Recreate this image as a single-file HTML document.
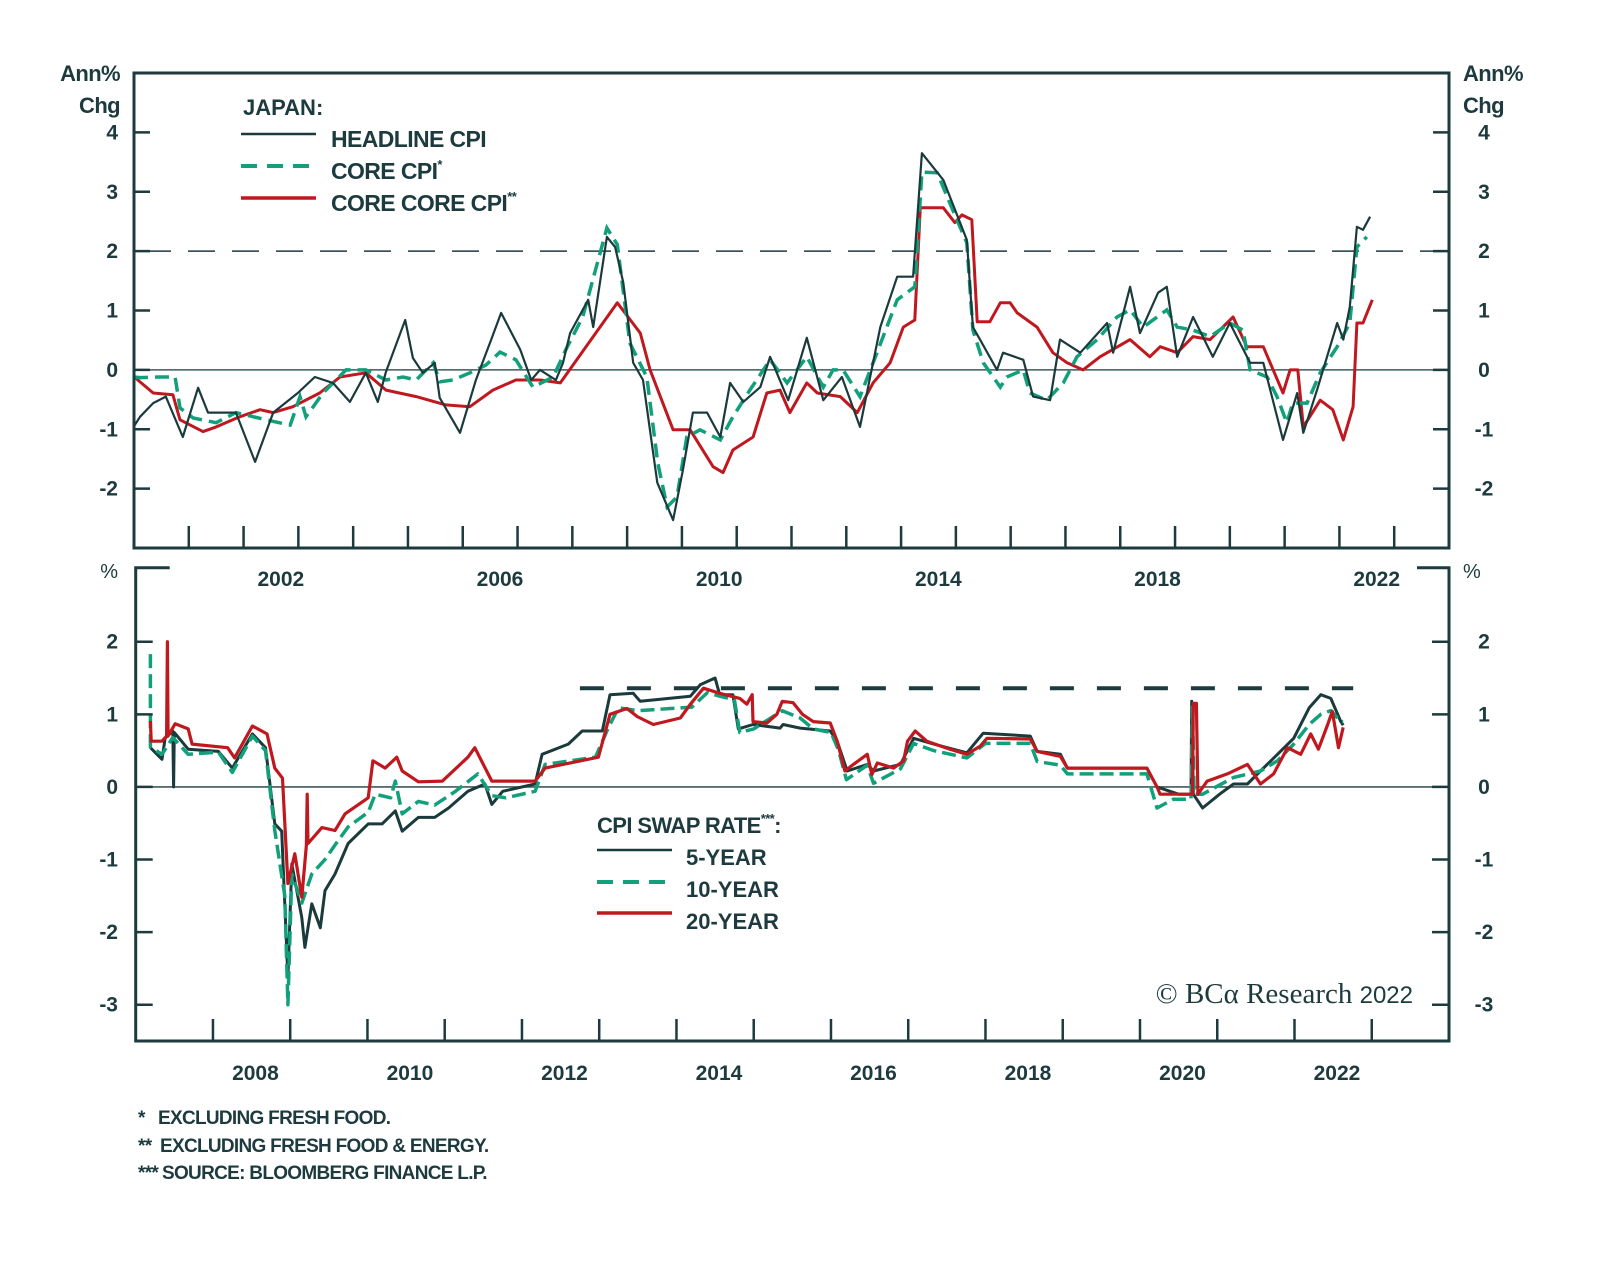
<!DOCTYPE html>
<html><head><meta charset="utf-8"><style>
html,body{margin:0;padding:0;background:#fff;}
svg{display:block;font-family:"Liberation Sans",sans-serif;}
.t{fill:#1d3b3e;font-weight:bold;}
</style></head>
<body>
<svg id="chart" width="1600" height="1268" viewBox="0 0 1600 1268" xmlns="http://www.w3.org/2000/svg">
<rect x="0" y="0" width="1600" height="1268" fill="#fff"/>
<g id="topPanel"></g>
<g id="botPanel"></g>
<g>
<text x="243" y="115" class="t" font-size="22">JAPAN:</text>
<line x1="241" y1="134" x2="316" y2="134" stroke="#1b3a3c" stroke-width="2.5"/>
<text x="331" y="147" class="t" font-size="23" letter-spacing="-0.6">HEADLINE CPI</text>
<line x1="241" y1="166" x2="316" y2="166" stroke="#12a07a" stroke-width="4" stroke-dasharray="16,10"/>
<text x="331" y="179" class="t" font-size="23" letter-spacing="-0.6">CORE CPI<tspan font-size="13" dy="-10">*</tspan></text>
<line x1="241" y1="198" x2="316" y2="198" stroke="#c0181f" stroke-width="3.5"/>
<text x="331" y="211" class="t" font-size="23" letter-spacing="-0.6">CORE CORE CPI<tspan font-size="13" dy="-10">**</tspan></text>
</g>
<g>
<text x="597" y="833" class="t" font-size="22" letter-spacing="-0.6">CPI SWAP RATE<tspan font-size="13" dy="-10">***</tspan><tspan dy="10">:</tspan></text>
<line x1="597" y1="850" x2="672" y2="850" stroke="#1b3a3c" stroke-width="2.5"/>
<text x="686" y="865" class="t" font-size="22">5-YEAR</text>
<line x1="597" y1="882" x2="672" y2="882" stroke="#12a07a" stroke-width="4" stroke-dasharray="16,10"/>
<text x="686" y="897" class="t" font-size="22">10-YEAR</text>
<line x1="597" y1="913" x2="672" y2="913" stroke="#c0181f" stroke-width="3.5"/>
<text x="686" y="929" class="t" font-size="22">20-YEAR</text>
</g>
<text x="1413" y="1003" text-anchor="end" font-family="Liberation Serif, serif" font-size="29" fill="#1d3b3e">© BCα Research <tspan font-family="Liberation Sans, sans-serif" font-size="24">2022</tspan></text>
<g font-size="19" fill="#1d3b3e" font-weight="bold" letter-spacing="-0.7">
<text x="138" y="1124">*<tspan x="158">EXCLUDING FRESH FOOD.</tspan></text>
<text x="138" y="1152">**<tspan x="160">EXCLUDING FRESH FOOD &amp; ENERGY.</tspan></text>
<text x="138" y="1179">***<tspan x="162">SOURCE: BLOOMBERG FINANCE L.P.</tspan></text>
</g>
</svg>
<script>
// ---------- TOP PANEL DATA ----------
const topTickYears = [2001,2002,2003,2004,2005,2006,2007,2008,2009,2010,2011,2012,2013,2014,2015,2016,2017,2018,2019,2020,2021,2022,2023];
const topYearLabels = [2002,2006,2010,2014,2018,2022];
const topValueTicks = [-2,-1,0,1,2,3,4];
const headlineSeries = [[2000.0,-0.95],[2000.11,-0.79],[2000.35,-0.56],[2000.58,-0.45],[2000.89,-1.13],[2001.17,-0.30],[2001.35,-0.72],[2001.86,-0.72],[2002.21,-1.55],[2002.54,-0.72],[2002.99,-0.39],[2003.30,-0.12],[2003.63,-0.22],[2003.94,-0.54],[2004.23,-0.05],[2004.45,-0.54],[2004.60,-0.03],[2004.95,0.84],[2005.09,0.20],[2005.27,-0.05],[2005.49,0.12],[2005.58,-0.47],[2005.95,-1.06],[2006.24,-0.17],[2006.52,0.51],[2006.70,0.96],[2007.05,0.34],[2007.25,-0.17],[2007.41,0],[2007.70,-0.17],[2007.83,0.12],[2007.96,0.62],[2008.29,1.18],[2008.38,0.72],[2008.63,2.24],[2008.78,2.07],[2008.93,1.47],[2009.11,0.12],[2009.29,-0.17],[2009.55,-1.90],[2009.84,-2.53],[2010.02,-1.68],[2010.20,-0.72],[2010.46,-0.72],[2010.70,-1.13],[2010.88,-0.22],[2011.12,-0.54],[2011.43,-0.29],[2011.61,0.22],[2011.94,-0.51],[2012.28,0.54],[2012.58,-0.51],[2012.92,-0.12],[2013.25,-0.96],[2013.62,0.72],[2013.93,1.57],[2014.22,1.57],[2014.38,3.65],[2014.77,3.20],[2015.20,2.19],[2015.31,0.72],[2015.44,0.51],[2015.75,0],[2015.86,0.29],[2016.23,0.17],[2016.41,-0.45],[2016.72,-0.51],[2016.90,0.51],[2017.27,0.29],[2017.76,0.79],[2017.87,0.29],[2018.18,1.40],[2018.36,0.62],[2018.69,1.30],[2018.85,1.40],[2019.04,0.22],[2019.33,0.89],[2019.69,0.22],[2020.00,0.79],[2020.37,0.12],[2020.61,0.12],[2020.97,-1.18],[2021.23,-0.39],[2021.34,-1.06],[2021.59,-0.34],[2021.96,0.79],[2022.07,0.51],[2022.19,1.06],[2022.32,2.41],[2022.43,2.36],[2022.56,2.58]];
const coreSeries = [[2000.0,-0.12],[2000.11,-0.13],[2000.47,-0.12],[2000.75,-0.12],[2000.84,-0.64],[2001.08,-0.81],[2001.50,-0.89],[2001.86,-0.72],[2002.41,-0.84],[2002.85,-0.93],[2003.03,-0.45],[2003.14,-0.79],[2003.45,-0.39],[2003.87,0],[2004.23,0],[2004.60,-0.17],[2004.91,-0.12],[2005.15,-0.17],[2005.46,0.12],[2005.58,-0.20],[2005.82,-0.17],[2006.13,-0.05],[2006.42,0.08],[2006.68,0.30],[2006.97,0.17],[2007.28,-0.29],[2007.65,-0.12],[2007.88,0.34],[2008.19,0.89],[2008.63,2.39],[2008.82,2.11],[2009.05,0.45],[2009.36,-0.12],[2009.56,-1.57],[2009.73,-2.31],[2009.91,-2.14],[2010.09,-1.13],[2010.33,-1.01],[2010.70,-1.18],[2010.93,-0.79],[2011.24,-0.34],[2011.61,0.17],[2011.92,-0.22],[2012.28,0.22],[2012.58,-0.29],[2012.76,0],[2012.94,0],[2013.25,-0.45],[2013.49,0.12],[2013.74,0.72],[2013.93,1.18],[2014.25,1.40],[2014.38,3.33],[2014.66,3.32],[2014.89,2.81],[2015.20,2.14],[2015.31,0.67],[2015.50,0.12],[2015.81,-0.29],[2015.93,-0.12],[2016.23,0],[2016.35,-0.39],[2016.66,-0.51],[2016.96,-0.22],[2017.21,0.22],[2017.58,0.51],[2017.94,0.89],[2018.18,1.01],[2018.42,0.72],[2018.85,1.01],[2019.04,0.72],[2019.33,0.67],[2019.64,0.56],[2020.00,0.79],[2020.24,0.67],[2020.37,0],[2020.68,-0.12],[2020.86,-0.45],[2021.04,-0.89],[2021.15,-0.56],[2021.41,-0.56],[2021.65,-0.05],[2021.96,0.39],[2022.19,0.79],[2022.32,2.07],[2022.50,2.24]];
const coreCoreSeries = [[2000.0,-0.1],[2000.07,-0.17],[2000.35,-0.39],[2000.71,-0.42],[2000.84,-0.84],[2001.26,-1.04],[2001.50,-0.96],[2001.93,-0.79],[2002.30,-0.67],[2002.54,-0.72],[2002.90,-0.62],[2003.39,-0.39],[2003.76,-0.12],[2004.23,-0.05],[2004.60,-0.34],[2005.15,-0.45],[2005.69,-0.59],[2006.13,-0.62],[2006.55,-0.34],[2006.97,-0.17],[2007.41,-0.17],[2007.78,-0.22],[2008.82,1.13],[2009.24,0.62],[2009.42,0],[2009.84,-1.01],[2010.15,-1.01],[2010.57,-1.63],[2010.75,-1.73],[2010.93,-1.35],[2011.30,-1.13],[2011.55,-0.39],[2011.79,-0.34],[2011.97,-0.72],[2012.28,-0.22],[2012.47,-0.39],[2012.89,-0.45],[2013.20,-0.72],[2013.49,-0.22],[2013.80,0.12],[2014.04,0.72],[2014.25,0.84],[2014.35,2.73],[2014.77,2.73],[2014.98,2.48],[2015.11,2.61],[2015.29,2.53],[2015.39,0.81],[2015.62,0.81],[2015.81,1.13],[2015.99,1.13],[2016.12,0.96],[2016.48,0.72],[2016.77,0.29],[2017.03,0.12],[2017.32,0],[2017.63,0.22],[2018.18,0.51],[2018.54,0.22],[2018.73,0.39],[2019.04,0.29],[2019.33,0.56],[2019.64,0.51],[2020.06,0.89],[2020.31,0.39],[2020.61,0.39],[2020.97,-0.39],[2021.10,0],[2021.24,0],[2021.34,-0.96],[2021.65,-0.51],[2021.88,-0.67],[2022.07,-1.18],[2022.25,-0.62],[2022.32,0.79],[2022.43,0.79],[2022.60,1.18]];
const topTargetLevel = 2;

// ---------- BOTTOM PANEL DATA ----------
const botTickYears = [2008,2009,2010,2011,2012,2013,2014,2015,2016,2017,2018,2019,2020,2021,2022,2023];
const botYearLabels = [2008,2010,2012,2014,2016,2018,2020,2022];
const botValueTicks = [-3,-2,-1,0,1,2];
const swap5Series = [[2007.19,0.54],[2007.34,0.38],[2007.38,0.67],[2007.48,0.77],[2007.49,0.0],[2007.5,0.75],[2007.68,0.52],[2008.07,0.49],[2008.25,0.26],[2008.51,0.73],[2008.68,0.54],[2008.80,-0.51],[2008.89,-0.61],[2008.97,-2.63],[2009.02,-1.06],[2009.15,-1.80],[2009.19,-2.21],[2009.28,-1.61],[2009.39,-1.94],[2009.45,-1.43],[2009.58,-1.20],[2009.75,-0.78],[2010.01,-0.51],[2010.19,-0.51],[2010.36,-0.33],[2010.45,-0.61],[2010.66,-0.42],[2010.87,-0.42],[2011.05,-0.29],[2011.30,-0.06],[2011.52,0.04],[2011.61,-0.24],[2011.75,-0.06],[2012.17,0.04],[2012.26,0.45],[2012.60,0.59],[2012.78,0.77],[2013.04,0.77],[2013.14,1.27],[2013.44,1.29],[2013.53,1.18],[2014.18,1.25],[2014.31,1.41],[2014.50,1.50],[2014.56,1.27],[2014.73,1.27],[2014.80,0.80],[2014.99,0.86],[2015.34,0.81],[2015.38,0.86],[2015.60,0.81],[2015.99,0.77],[2016.08,0.63],[2016.21,0.22],[2016.47,0.31],[2016.55,0.22],[2016.90,0.31],[2017.07,0.67],[2017.33,0.59],[2017.76,0.47],[2017.97,0.74],[2018.58,0.70],[2018.67,0.49],[2018.97,0.45],[2019.06,0.26],[2020.09,0.26],[2020.22,0],[2020.5,-0.1],[2020.66,-0.1],[2020.67,1.18],[2020.69,-0.1],[2020.81,-0.29],[2021.03,-0.1],[2021.21,0.04],[2021.39,0.04],[2021.56,0.22],[2021.78,0.45],[2021.99,0.67],[2022.19,1.09],[2022.34,1.27],[2022.47,1.22],[2022.60,0.90],[2022.63,0.85]];
const swap10Series = [[2007.19,1.83],[2007.19,0.55],[2007.34,0.45],[2007.48,0.68],[2007.68,0.45],[2008.07,0.48],[2008.25,0.2],[2008.51,0.7],[2008.68,0.5],[2008.80,-0.6],[2008.93,-1.5],[2008.97,-3.0],[2009.02,-1.2],[2009.15,-1.6],[2009.28,-1.2],[2009.45,-1.0],[2009.58,-0.8],[2009.75,-0.55],[2010.01,-0.35],[2010.1,-0.1],[2010.3,-0.15],[2010.36,0.08],[2010.45,-0.37],[2010.66,-0.2],[2010.87,-0.25],[2011.14,-0.06],[2011.43,0.18],[2011.61,-0.12],[2011.79,-0.15],[2012.17,-0.06],[2012.30,0.31],[2012.95,0.41],[2013.12,0.82],[2013.25,1.09],[2013.5,1.05],[2014.2,1.1],[2014.4,1.3],[2014.56,1.25],[2014.75,1.2],[2014.82,0.75],[2015.0,0.8],[2015.37,1.05],[2015.6,0.95],[2015.77,0.8],[2016.0,0.75],[2016.1,0.5],[2016.2,0.1],[2016.47,0.3],[2016.55,0.05],[2016.9,0.25],[2017.07,0.6],[2017.33,0.5],[2017.76,0.4],[2018.0,0.6],[2018.58,0.6],[2018.67,0.35],[2018.97,0.3],[2019.06,0.18],[2020.09,0.18],[2020.22,-0.29],[2020.43,-0.17],[2020.66,-0.17],[2020.68,1.1],[2020.7,-0.1],[2020.81,-0.1],[2021.21,0.13],[2021.56,0.22],[2021.78,0.36],[2021.99,0.59],[2022.19,0.86],[2022.34,1.0],[2022.47,1.05],[2022.60,0.90],[2022.63,0.9]];
const swap20Series = [[2007.19,0.91],[2007.2,0.63],[2007.34,0.63],[2007.40,0.7],[2007.41,2.0],[2007.42,0.7],[2007.51,0.87],[2007.68,0.8],[2007.73,0.59],[2008.19,0.54],[2008.28,0.4],[2008.51,0.84],[2008.70,0.73],[2008.80,0.26],[2008.90,0.12],[2008.97,-1.33],[2009.06,-0.92],[2009.15,-1.52],[2009.21,-0.8],[2009.22,-0.1],[2009.23,-0.78],[2009.41,-0.56],[2009.58,-0.6],[2009.71,-0.37],[2010.01,-0.15],[2010.07,0.36],[2010.23,0.26],[2010.38,0.41],[2010.45,0.22],[2010.66,0.07],[2010.97,0.08],[2011.30,0.41],[2011.39,0.54],[2011.61,0.08],[2012.17,0.08],[2012.30,0.26],[2012.99,0.41],[2013.14,1.00],[2013.36,1.08],[2013.49,0.97],[2013.70,0.86],[2014.05,0.95],[2014.18,1.14],[2014.35,1.36],[2014.56,1.29],[2014.82,1.22],[2014.91,1.14],[2014.98,1.27],[2014.99,0.90],[2015.17,0.88],[2015.30,1.00],[2015.37,1.18],[2015.51,1.16],[2015.63,1.00],[2015.77,0.90],[2015.99,0.88],[2016.08,0.63],[2016.18,0.22],[2016.29,0.31],[2016.47,0.45],[2016.53,0.17],[2016.60,0.33],[2016.81,0.26],[2016.94,0.36],[2016.99,0.63],[2017.09,0.77],[2017.24,0.63],[2017.54,0.52],[2017.76,0.45],[2017.93,0.56],[2018.02,0.67],[2018.58,0.66],[2018.67,0.49],[2018.97,0.42],[2019.06,0.26],[2020.09,0.26],[2020.22,0],[2020.26,-0.1],[2020.68,-0.1],[2020.69,1.15],[2020.73,1.15],[2020.75,-0.1],[2020.87,0.08],[2021.13,0.18],[2021.39,0.31],[2021.56,0.04],[2021.73,0.18],[2021.91,0.54],[2022.08,0.45],[2022.21,0.73],[2022.31,0.52],[2022.43,0.86],[2022.49,1.04],[2022.57,0.54],[2022.63,0.82]];
const botRefLevel = 1.36;
const botRefRange = [2012.75, 2022.76];

// ---------- AXES ----------
const TL=134, TR=1449, TT=73, TB=548;
const BL=135.7, BR=1449, BT=567.7, BB=1041;
function xT(yr){ return TL + (yr-2000)/(2024-2000)*(TR-TL); }
function yT(v){ return TB - (v-(-3))/(5-(-3))*(TB-TT); }
function xB(yr){ return BL + (yr-2007)/(2024-2007)*(BR-BL); }
function yB(v){ return BB - (v-(-3.5))/(3.02-(-3.5))*(BB-BT); }

const NS="http://www.w3.org/2000/svg";
const INK="#1d3b3e";
function mk(parent, tag, attrs){
  const el=document.createElementNS(NS,tag);
  for(const k in attrs) el.setAttribute(k, attrs[k]);
  parent.appendChild(el); return el;
}
function pathD(series, fx, fy){
  return series.map((p,i)=>(i?'L':'M')+fx(p[0]).toFixed(1)+','+fy(p[1]).toFixed(1)).join(' ');
}
const topG=document.getElementById('topPanel');
const botG=document.getElementById('botPanel');

let e;
e=mk(topG,'line',{x1:TL,x2:TR,y1:yT(0),y2:yT(0),stroke:'#3f5a5c','stroke-width':1.6});


e=mk(topG,'line',{x1:TL+10,x2:TR,y1:yT(topTargetLevel),y2:yT(topTargetLevel),stroke:'#1d3b3e','stroke-width':1.6,'stroke-dasharray':'27,17'});



e=mk(topG,'path',{d:pathD(coreCoreSeries,xT,yT),fill:'none',stroke:'#c0181f','stroke-width':3,'stroke-linejoin':'round'});


e=mk(topG,'path',{d:pathD(coreSeries,xT,yT),fill:'none',stroke:'#12a07a','stroke-width':3.5,'stroke-dasharray':'14,7'});


e=mk(topG,'path',{d:pathD(headlineSeries,xT,yT),fill:'none',stroke:'#1b3a3c','stroke-width':2.2,'stroke-linejoin':'round'});



e=mk(topG,'rect',{x:TL,y:TT,width:TR-TL,height:TB-TT,fill:'none',stroke:INK,'stroke-width':3});


topTickYears.forEach(yr=>{
  const t=mk(topG,'line',{x1:xT(yr),x2:xT(yr),y1:TB,y2:TB-22,stroke:INK,'stroke-width':2.5});
  
  
});
topYearLabels.forEach(yr=>{
  const t=mk(topG,'text',{x:xT(yr+0.68),y:586,'text-anchor':'middle','font-size':21,class:'t'});
  t.textContent=yr;
  
  
});
topValueTicks.forEach(v=>{
  const a=mk(topG,'line',{x1:TL,x2:TL+16,y1:yT(v),y2:yT(v),stroke:INK,'stroke-width':2.5});
  
  
  const b=mk(topG,'line',{x1:TR-16,x2:TR,y1:yT(v),y2:yT(v),stroke:INK,'stroke-width':2.5});
  
  
  const l=mk(topG,'text',{x:118,y:yT(v)+7,'text-anchor':'end','font-size':21,class:'t'});
  l.textContent=v;
  
  
  const r=mk(topG,'text',{x:1484,y:yT(v)+7,'text-anchor':'middle','font-size':21,class:'t'});
  r.textContent=v;
  
  
});
[['Ann%',81],['Chg',113]].forEach(([s,y])=>{
  const l=mk(topG,'text',{x:120,y:y,'text-anchor':'end','font-size':22,class:'t','letter-spacing':'-0.6'});
  l.textContent=s;
  
  
  const r=mk(topG,'text',{x:1463,y:y,'text-anchor':'start','font-size':22,class:'t','letter-spacing':'-0.6'});
  r.textContent=s;
  
  
});

e=mk(botG,'line',{x1:BL,x2:BR,y1:yB(0),y2:yB(0),stroke:'#3f5a5c','stroke-width':1.6});


e=mk(botG,'line',{x1:xB(botRefRange[0]),x2:xB(botRefRange[1]),y1:yB(botRefLevel),y2:yB(botRefLevel),stroke:'#1d3b3e','stroke-width':4,'stroke-dasharray':'24,23'});



e=mk(botG,'path',{d:pathD(swap5Series,xB,yB),fill:'none',stroke:'#1b3a3c','stroke-width':3,'stroke-linejoin':'round'});


e=mk(botG,'path',{d:pathD(swap10Series,xB,yB),fill:'none',stroke:'#12a07a','stroke-width':3.5,'stroke-dasharray':'14,6','stroke-linejoin':'round'});


e=mk(botG,'path',{d:pathD(swap20Series,xB,yB),fill:'none',stroke:'#c0181f','stroke-width':3.2,'stroke-linejoin':'round'});



e=mk(botG,'path',{d:`M${BL+34},${BT} L${BL},${BT} L${BL},${BB} L${BR},${BB} L${BR},${BT} L${BR-32},${BT}`,fill:'none',stroke:INK,'stroke-width':3});


botTickYears.forEach(yr=>{
  const t=mk(botG,'line',{x1:xB(yr),x2:xB(yr),y1:BB,y2:BB-22,stroke:INK,'stroke-width':2.5});
  
  
});
botYearLabels.forEach(yr=>{
  const t=mk(botG,'text',{x:xB(yr+0.55),y:1080,'text-anchor':'middle','font-size':21,class:'t'});
  t.textContent=yr;
  
  
});
botValueTicks.forEach(v=>{
  const a=mk(botG,'line',{x1:BL,x2:BL+17,y1:yB(v),y2:yB(v),stroke:INK,'stroke-width':2.5});
  
  
  const b=mk(botG,'line',{x1:BR-17,x2:BR,y1:yB(v),y2:yB(v),stroke:INK,'stroke-width':2.5});
  
  
  const l=mk(botG,'text',{x:118,y:yB(v)+7,'text-anchor':'end','font-size':21,class:'t'});
  l.textContent=v;
  
  
  const r=mk(botG,'text',{x:1484,y:yB(v)+7,'text-anchor':'middle','font-size':21,class:'t'});
  r.textContent=v;
  
  
});
e=mk(botG,'text',{x:118,y:578,'text-anchor':'end','font-size':20,fill:INK});
e.textContent='%';


e=mk(botG,'text',{x:1463,y:578,'text-anchor':'start','font-size':20,fill:INK});
e.textContent='%';


</script>
</body></html>
